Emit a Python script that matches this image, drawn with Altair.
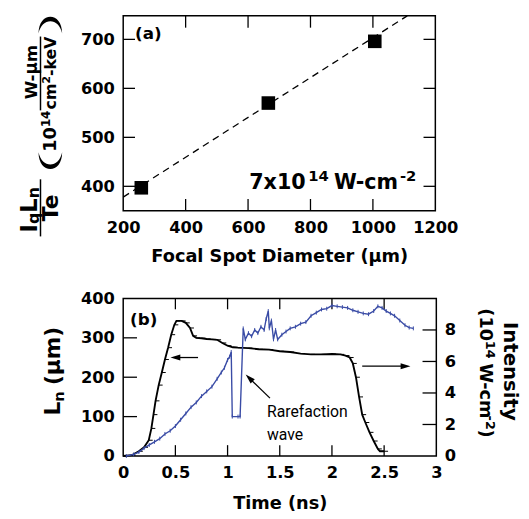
import altair as alt
import pandas as pd

# ---------------- data : panel (a) ----------------
spot_um = [258, 665, 1006]
iqln_te = [397, 570, 696]
fit_spot = [200, 1110]
fit_val = [378, 748]
a_xticks = [200, 400, 600, 800, 1000, 1200]
a_yticks = [400, 500, 600, 700]

# ---------------- data : panel (b) ----------------
t_ln = [0, 0.08, 0.15, 0.20, 0.245, 0.27, 0.29, 0.31, 0.34, 0.37,
        0.40, 0.43, 0.46, 0.49, 0.51, 0.56, 0.60, 0.64, 0.67, 0.70,
        0.75, 0.80, 0.85, 0.90, 0.95, 1.00, 1.05, 1.10, 1.20, 1.30,
        1.40, 1.50, 1.60, 1.70, 1.80, 1.90, 2.00, 2.08, 2.13, 2.17,
        2.20, 2.23, 2.26, 2.29, 2.32, 2.36, 2.40, 2.44, 2.46, 2.50]
ln_um = [0, 2, 12, 22, 40, 70, 105, 140, 180, 212,
         245, 275, 308, 333, 343, 343, 338, 325, 305, 300,
         299, 297, 296, 295, 287, 280, 276, 275, 274, 271,
         270, 266, 264, 260, 258, 258, 259, 258, 255, 250,
         235, 200, 150, 105, 85, 60, 38, 18, 12, 12]
t_int = [0.03, 0.10, 0.15, 0.20, 0.25, 0.30, 0.35, 0.40, 0.45, 0.50,
         0.55, 0.60, 0.65, 0.70, 0.75, 0.80, 0.85, 0.90, 0.94, 0.97,
         1.00, 1.02, 1.035, 1.045, 1.10, 1.12, 1.15, 1.17, 1.20, 1.23,
         1.26, 1.29, 1.32, 1.35, 1.37, 1.39, 1.40, 1.42, 1.44, 1.46,
         1.48, 1.52, 1.56, 1.60, 1.65, 1.70, 1.75, 1.80, 1.85, 1.90,
         1.95, 2.00, 2.05, 2.10, 2.15, 2.20, 2.25, 2.30, 2.35, 2.40,
         2.44, 2.48, 2.52, 2.56, 2.60, 2.65, 2.70, 2.74, 2.78]
intensity = [0.0, 0.1, 0.25, 0.5, 0.7, 0.9, 1.1, 1.4, 1.6, 1.9,
             2.3, 2.7, 3.1, 3.4, 3.8, 4.1, 4.4, 4.9, 5.3, 5.6,
             6.1, 6.3, 6.6, 2.5, 2.5, 2.5, 8.1, 7.4, 7.8, 7.6,
             8.0, 7.8, 8.2, 8.0, 8.7, 9.2, 8.1, 8.6, 7.4, 8.0,
             7.4, 7.7, 7.9, 8.1, 8.2, 8.4, 8.5, 8.9, 9.1, 9.3,
             9.35, 9.55, 9.5, 9.45, 9.4, 9.25, 9.15, 9.05, 9.0, 9.2,
             9.5, 9.4, 9.2, 9.05, 8.9, 8.6, 8.3, 8.15, 8.1]
b_xticks = [0, 0.5, 1, 1.5, 2, 2.5, 3]
b_lticks = [0, 100, 200, 300, 400]
b_rticks = [0, 2, 4, 6, 8]

# ---------------- layout constants ----------------
PX0 = 124          # page x of both plot areas' left edge
A_Y0 = 8           # page y of panel (a) top
B_Y0 = 293         # page y of panel (b) top
WA, HA = 317, 198
WB, HB = 318, 160
FONT = "DejaVu Sans"
BLUE = "#3a4ca6"
ONE = pd.DataFrame({"k": [0]})
PAREN_OPEN = "M-1,-1C-1,0.9,1,0.9,1,-1C0.72,0.38,-0.72,0.38,-1,-1Z"   # rotated "("
PAREN_CLOSE = "M-1,1C-1,-0.9,1,-0.9,1,1C0.72,-0.38,-0.72,-0.38,-1,1Z"  # rotated ")"


def label(text, px, py, oy, size, angle=0, align="left", baseline="alphabetic",
          weight="bold", font=FONT):
    return alt.Chart(ONE).mark_text(
        text=text, font=font, fontSize=size, fontWeight=weight, angle=angle,
        align=align, baseline=baseline, color="black",
    ).encode(x=alt.value(px - PX0), y=alt.value(py - oy))


def vbar(px, py1, py2, oy, w=1.5):
    return alt.Chart(ONE).mark_rule(color="black", strokeWidth=w).encode(
        x=alt.value(px - PX0), y=alt.value(py1 - oy), y2=alt.value(py2 - oy))


def paren(path, px, py, oy, size=576):
    return alt.Chart(ONE).mark_point(
        shape=path, size=size, filled=True, color="black", opacity=1, strokeWidth=0
    ).encode(x=alt.value(px - PX0), y=alt.value(py - oy))


rule = dict(color="black", strokeWidth=1.3)

# ================= panel (a) =================
sxa = alt.Scale(domain=[200, 1200], nice=False, zero=False)
sya = alt.Scale(domain=[350, 748], nice=False, zero=False)
axa_x = alt.Axis(values=a_xticks, format="d", title="Focal Spot Diameter (μm)",
                 labelPadding=9, titlePadding=12)
axa_y = alt.Axis(values=a_yticks, title=None, labelPadding=9)


def XA(f):
    return alt.X(f, scale=sxa, axis=axa_x)


def YA(f):
    return alt.Y(f, scale=sya, axis=axa_y)


fit = alt.Chart(pd.DataFrame({"spot": fit_spot, "val": fit_val})).mark_line(
    color="black", strokeWidth=1.3, strokeDash=[7, 5]
).encode(x=XA("spot:Q"), y=YA("val:Q"))
pts = alt.Chart(pd.DataFrame({"spot": spot_um, "val": iqln_te})).mark_square(
    size=190, color="black", opacity=1
).encode(x=XA("spot:Q"), y=YA("val:Q"))

xa_in = pd.DataFrame({"v": [v for v in a_xticks if 200 < v < 1200]})
ya_in = pd.DataFrame({"v": a_yticks})
a_ticks = [
    alt.Chart(xa_in).mark_rule(**rule).encode(x=XA("v:Q"), y=alt.value(HA), y2=alt.value(HA - 12)),
    alt.Chart(xa_in).mark_rule(**rule).encode(x=XA("v:Q"), y=alt.value(0), y2=alt.value(12)),
    alt.Chart(ya_in).mark_rule(**rule).encode(y=YA("v:Q"), x=alt.value(0), x2=alt.value(12)),
    alt.Chart(ya_in).mark_rule(**rule).encode(y=YA("v:Q"), x=alt.value(WA), x2=alt.value(WA - 12)),
]

# invisible layout anchors (left edge and bottom edge of panel a)
anchors_a = [
    alt.Chart(ONE).mark_rule(strokeOpacity=0, strokeWidth=1).encode(
        x=alt.value(-115.5), y=alt.value(0), y2=alt.value(5)),
    alt.Chart(ONE).mark_rule(strokeOpacity=0, strokeWidth=1).encode(
        x=alt.value(0), x2=alt.value(5), y=alt.value(HA + 70)),
]

a_text = [
    label("(a)", 136, 32, A_Y0, 17),
    label("7x10", 252, 184, A_Y0, 21),
    label("14", 312, 176, A_Y0, 15),
    label("W-cm", 338, 184, A_Y0, 21),
    label("-2", 405, 176, A_Y0, 15),
    # y title:  IqLn / Te (10^14 W-um / cm2-keV)
    label("I", 36, 228, A_Y0, 23, angle=270),
    label("q", 38.5, 219.4, A_Y0, 16, angle=270),
    label("L", 36, 207.9, A_Y0, 23, angle=270),
    label("n", 38.5, 193.2, A_Y0, 16, angle=270),
    vbar(40, 174, 232, A_Y0),
    label("Te", 57.5, 203, A_Y0, 22, angle=270, align="center"),
    paren(PAREN_OPEN, 50, 158.5, A_Y0),
    label("10", 56, 146, A_Y0, 18, angle=270),
    label("14", 50, 121, A_Y0, 12, angle=270),
    label("W-μm", 36, 65, A_Y0, 17, angle=270, align="center"),
    vbar(40, 29, 104, A_Y0),
    label("cm", 55.5, 103, A_Y0, 16, angle=270),
    label("2", 49.5, 76.8, A_Y0, 11, angle=270),
    label("-keV", 55.5, 69.1, A_Y0, 16, angle=270),
    paren(PAREN_CLOSE, 50, 14, A_Y0),
]

panel_a = alt.layer(*anchors_a, *a_ticks, fit, pts, *a_text).properties(width=WA, height=HA)

# ================= panel (b) =================
sxb = alt.Scale(domain=[0, 3], nice=False, zero=False)
syl = alt.Scale(domain=[0, 400], nice=False, zero=False)
syr = alt.Scale(domain=[0, 10], nice=False, zero=False)
axb_x = alt.Axis(values=b_xticks, format="~g", title="Time (ns)", labelPadding=9, titlePadding=14)
axb_l = alt.Axis(values=b_lticks, title=None, labelPadding=9)
axb_r = alt.Axis(values=b_rticks, orient="right", title=None, labelPadding=8)


def XB(f):
    return alt.X(f, scale=sxb, axis=axb_x)


def YL(f):
    return alt.Y(f, scale=syl, axis=axb_l)


def YR(f):
    return alt.Y(f, scale=syr, axis=axb_r)


df_ln = pd.DataFrame({"t": t_ln, "ln": ln_um})
df_int = pd.DataFrame({"t": t_int, "i": intensity})

ln_line = alt.Chart(df_ln).mark_line(color="black", strokeWidth=1.9).encode(x=XB("t:Q"), y=YL("ln:Q"))
ln_marks = alt.Chart(df_ln).mark_point(
    shape="M0,0H1", size=64, color="black", strokeWidth=1, filled=False, opacity=1
).encode(x=XB("t:Q"), y=YL("ln:Q"))

xb_in = pd.DataFrame({"v": [v for v in b_xticks if 0 < v < 3]})
yl_in = pd.DataFrame({"v": [v for v in b_lticks if 0 < v < 400]})
yr_in = pd.DataFrame({"v": [v for v in b_rticks if 0 < v < 10]})
b_ticks_left = [
    alt.Chart(xb_in).mark_rule(**rule).encode(x=XB("v:Q"), y=alt.value(HB), y2=alt.value(HB - 11)),
    alt.Chart(xb_in).mark_rule(**rule).encode(x=XB("v:Q"), y=alt.value(0), y2=alt.value(11)),
    alt.Chart(yl_in).mark_rule(**rule).encode(y=YL("v:Q"), x=alt.value(0), x2=alt.value(14)),
]


def arrow(t0, v0, t1, v1, head_angle):
    shaft = alt.Chart(pd.DataFrame({"t": [t0, t1], "ln": [v0, v1]})).mark_line(
        color="black", strokeWidth=1.3
    ).encode(x=XB("t:Q"), y=YL("ln:Q"))
    head = alt.Chart(pd.DataFrame({"t": [t1], "ln": [v1]})).mark_point(
        shape="M0,-1L0.6,1L-0.6,1Z", size=100, angle=head_angle, filled=True,
        color="black", opacity=1, strokeWidth=0
    ).encode(x=XB("t:Q"), y=YL("ln:Q"))
    return [shaft, head]


arrows = (arrow(0.717, 250, 0.50, 250, 270)
          + arrow(2.29, 228, 2.705, 228, 90)
          + arrow(1.406, 147, 1.207, 198, 314))

anchor_b = alt.Chart(ONE).mark_rule(strokeOpacity=0, strokeWidth=1).encode(
    x=alt.value(0), x2=alt.value(5), y=alt.value(-12))

b_text = [
    label("(b)", 131, 320, B_Y0, 17),
    label("Rarefaction", 270, 413, B_Y0, 16, weight="normal", font="Roboto"),
    label("wave", 270, 437, B_Y0, 16, weight="normal", font="Roboto"),
    # left title  Ln (um)
    label("L", 60, 412, B_Y0, 22, angle=270),
    label("n", 64, 398, B_Y0, 15, angle=270),
    label("(μm)", 60, 381, B_Y0, 22, angle=270),
    # right title
    label("Intensity", 511, 367, B_Y0, 20, angle=90, align="center"),
    label("(10", 486, 303, B_Y0, 18, angle=90),
    label("14", 492, 336, B_Y0, 13, angle=90),
    label("W-cm", 486, 359, B_Y0, 18, angle=90),
    label("-2", 492, 412, B_Y0, 13, angle=90),
    label(")", 486, 426, B_Y0, 18, angle=90),
]

left_group = alt.layer(*b_ticks_left, ln_line, ln_marks, *arrows, anchor_b, *b_text)

r_ticks = alt.Chart(yr_in).mark_rule(**rule).encode(
    y=YR("v:Q"), x=alt.value(WB), x2=alt.value(WB - 14))
int_line = alt.Chart(df_int).mark_line(color=BLUE, strokeWidth=1.4).encode(x=XB("t:Q"), y=YR("i:Q"))
int_marks = alt.Chart(df_int).mark_point(
    shape="M0,-1V1", size=16, color=BLUE, strokeWidth=1, filled=False, opacity=1
).encode(x=XB("t:Q"), y=YR("i:Q"))

right_group = alt.layer(r_ticks, int_line, int_marks)

panel_b = alt.layer(left_group, right_group).resolve_scale(y="independent").properties(
    width=WB, height=HB)

chart = alt.vconcat(panel_a, panel_b, spacing=5).properties(
    padding={"left": 0, "top": 0, "right": 0, "bottom": 0}
).configure_view(
    stroke="black", strokeWidth=1.5
).configure_axis(
    labelFont=FONT, labelFontSize=16.5, labelFontWeight="bold", labelColor="black",
    titleFont=FONT, titleFontSize=18, titleFontWeight="bold", titleColor="black",
    ticks=False, domain=False, grid=False, labelFlush=False, labelOverlap=False,
)

chart.save("out.html", embed_options={"renderer": "svg", "actions": False})
